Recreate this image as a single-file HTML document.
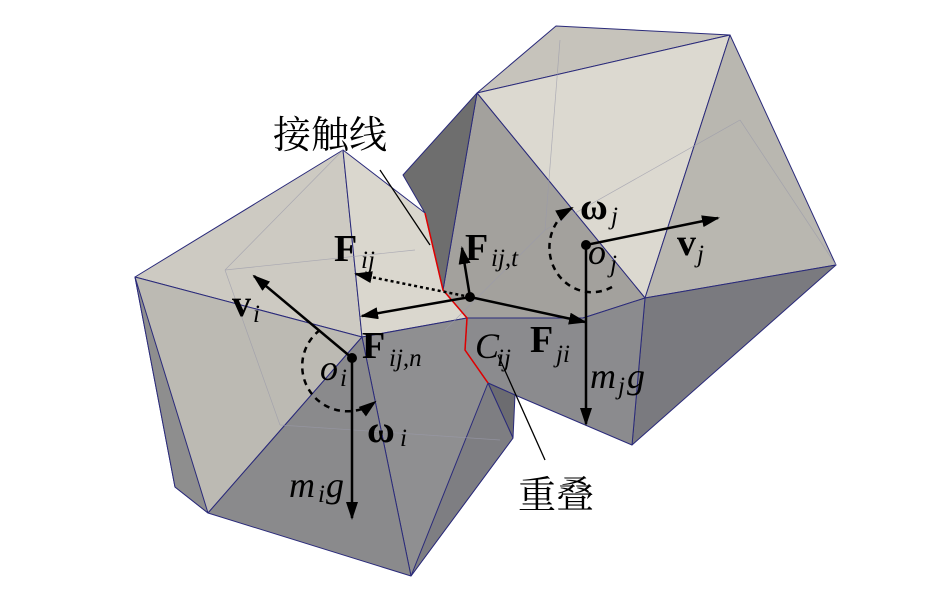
<!DOCTYPE html>
<html><head><meta charset="utf-8"><style>
html,body{margin:0;padding:0;background:#fff;}
svg{display:block;}
text{font-family:"Liberation Serif","Noto Serif CJK SC",serif;fill:#000;}
.b{font-weight:bold;font-size:38px;}
.s{font-style:italic;font-size:25px;}
.it{font-style:italic;font-size:36px;}
</style></head><body>
<svg width="944" height="590" viewBox="0 0 944 590" xmlns="http://www.w3.org/2000/svg">
<defs>
<marker id="ar2" markerWidth="18" markerHeight="12" refX="16" refY="6" orient="auto" markerUnits="userSpaceOnUse"><path d="M0,0 L18,6 L0,12 z" fill="#000"/></marker>
</defs>
<g stroke="#2a2a7a" stroke-width="1" stroke-linejoin="round">
<!-- right polyhedron (j) -->
<polygon points="477,93 556,26 730,35" fill="#c6c3bb"/>
<polygon points="477,93 730,35 645,298" fill="#dcd9d0"/>
<polygon points="730,35 836,265 645,298" fill="#b9b7b0"/>
<polygon points="836,265 632,445 645,298" fill="#7a7a7f"/>
<polygon points="477,93 645,298 583,318 467,318 443,290" fill="#a3a19d"/>
<polygon points="403,175 477,93 443,290 425,213" fill="#6e6e6e"/>
<polygon points="467,318 583,318 645,298 632,445 515,395 488,383 465,350" fill="#8b8b8e"/>
<!-- left polyhedron (i) -->
<polygon points="135,277 343,150 362,337" fill="#cdcac2"/>
<polygon points="343,150 425,213 443,290 467,318 362,337" fill="#dad7ce"/>
<polygon points="135,277 362,337 208,513 175,487" fill="#bcbab3"/>
<polygon points="135,277 208,513 175,487" fill="#8e8e8e"/>
<polygon points="362,337 467,318 465,350 488,383 513,438 411,576" fill="#8f8f91"/>
<polygon points="362,337 411,576 208,513" fill="#8a8a8c"/>
<polygon points="488,383 515,395 513,438" fill="#6c6c70"/>
<polygon points="513,438 411,576 488,383" fill="#7e7e82"/>
</g>
<g stroke="#9a9aaa" stroke-width="0.7" fill="none" opacity="0.7">
<line x1="225" y1="270" x2="415" y2="250"/><line x1="225" y1="270" x2="343" y2="150"/>
<line x1="225" y1="270" x2="280" y2="425"/><line x1="280" y1="425" x2="500" y2="440"/>
<line x1="560" y1="40" x2="545" y2="230"/><line x1="545" y1="230" x2="740" y2="120"/>
<line x1="740" y1="120" x2="836" y2="265"/><line x1="545" y1="230" x2="445" y2="330"/>
</g>
<polyline points="425,213 443,290 467,318 465,350 488,383" fill="none" stroke="#e00000" stroke-width="1.5"/>
<line x1="380" y1="170" x2="430" y2="245" stroke="#000" stroke-width="1.3"/>
<line x1="498" y1="355" x2="545" y2="460" stroke="#000" stroke-width="1.3"/>
<g stroke="#000" stroke-width="2.5" fill="none">
<line x1="470" y1="297" x2="356" y2="274" stroke-dasharray="3,3" marker-end="url(#ar2)"/>
<line x1="470" y1="297" x2="462" y2="248" marker-end="url(#ar2)"/>
<line x1="470" y1="297" x2="362" y2="316" marker-end="url(#ar2)"/>
<line x1="470" y1="297" x2="585" y2="322" marker-end="url(#ar2)"/>
<line x1="352" y1="358" x2="254" y2="276" marker-end="url(#ar2)"/>
<line x1="352" y1="358" x2="352" y2="518" marker-end="url(#ar2)"/>
<line x1="586" y1="245" x2="718" y2="218" marker-end="url(#ar2)"/>
<line x1="586" y1="245" x2="586" y2="424" marker-end="url(#ar2)"/>
<path d="M320,330 A45,45 0 0 0 375,402" stroke-dasharray="6,5" marker-end="url(#ar2)"/>
<path d="M612,287 A40,42 0 0 1 572,208" stroke-dasharray="6,5" marker-end="url(#ar2)"/>
</g>
<circle cx="470" cy="297" r="5"/><circle cx="352" cy="358" r="5"/><circle cx="586" cy="245" r="5"/>
<text x="273" y="148" font-size="38">接触线</text>
<text x="518" y="508" font-size="38">重叠</text>
<text x="334" y="261" class="b">F</text><text x="361" y="268" class="s">ij</text>
<text x="232" y="316" class="b">v</text><text x="253" y="322" class="s">i</text>
<text x="362" y="358" class="b">F</text><text x="389" y="366" class="s">ij,n</text>
<text x="320" y="380" class="it">o</text><text x="340" y="386" class="s">i</text>
<text x="367" y="442" class="b">ω</text><text x="400" y="446" class="s">i</text>
<text x="289" y="497" class="it">m</text><text x="318" y="502" class="s">i</text><text x="326" y="497" class="it">g</text>
<text x="465" y="260" class="b">F</text><text x="491" y="266" class="s">ij,t</text>
<text x="580" y="219" class="b">ω</text><text x="611" y="224" class="s">j</text>
<text x="677" y="255" class="b">v</text><text x="697" y="262" class="s">j</text>
<text x="588" y="264" class="it">o</text><text x="610" y="272" class="s">j</text>
<text x="475" y="358" class="it">C</text><text x="497" y="366" class="s">ij</text>
<text x="530" y="352" class="b">F</text><text x="556" y="362" class="s">ji</text>
<text x="590" y="388" class="it">m</text><text x="618" y="394" class="s">j</text><text x="627" y="388" class="it">g</text>
</svg>
</body></html>
